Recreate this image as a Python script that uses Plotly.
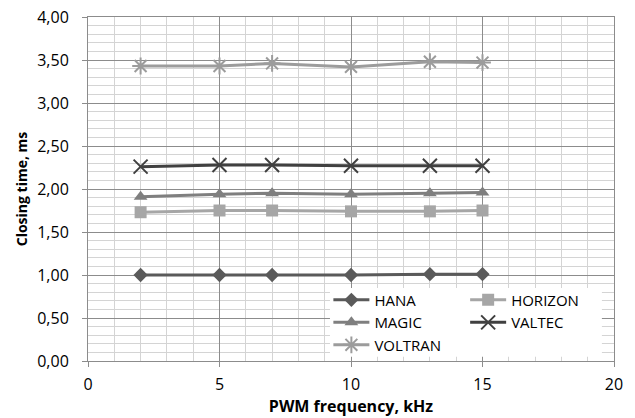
import plotly.graph_objects as go

freq = [2, 5, 7, 10, 13, 15]
hana = [1.00, 1.00, 1.00, 1.00, 1.01, 1.01]
horizon = [1.73, 1.75, 1.75, 1.74, 1.74, 1.75]
magic = [1.91, 1.94, 1.95, 1.94, 1.95, 1.96]
valtec = [2.26, 2.28, 2.28, 2.27, 2.27, 2.27]
voltran = [3.43, 3.43, 3.46, 3.42, 3.48, 3.47]

FONT = "Open Sans"

series = [
    ("HANA", hana, "#5a5a5a", "diamond", 11, "legend"),
    ("HORIZON", horizon, "#a6a6a6", "square", 12, "legend2"),
    ("MAGIC", magic, "#7f7f7f", "triangle-up", 12, "legend"),
    ("VALTEC", valtec, "#404040", "x-thin-open", 14, "legend2"),
    ("VOLTRAN", voltran, "#9c9c9c", "asterisk-open", 14, "legend"),
]

fig = go.Figure()
for name, vals, col, sym, size, lg in series:
    open_sym = sym.endswith("-open")
    fig.add_trace(go.Scatter(
        x=freq, y=vals, name=name, mode="lines+markers",
        line=dict(color=col, width=3),
        marker=dict(symbol=sym, size=size, color=col,
                    line=dict(color=col, width=2 if open_sym else 0)),
        legend=lg,
    ))

major = "#8c8c8c"
minor = "#d4d4d4"

fig.update_layout(
    width=635, height=418,
    margin=dict(l=88, r=21, t=17, b=57, autoexpand=False),
    paper_bgcolor="white", plot_bgcolor="white",
    separators=", ",
    font=dict(family=FONT, size=15, color="#000000"),
    showlegend=True,
    legend=dict(x=0.457, y=0.225, xanchor="left", yanchor="top",
                bgcolor="rgba(0,0,0,0)", font=dict(size=15),
                tracegroupgap=0, itemwidth=36),
    legend2=dict(x=0.717, y=0.225, xanchor="left", yanchor="top",
                 bgcolor="rgba(0,0,0,0)", font=dict(size=15),
                 tracegroupgap=0, itemwidth=36),
    shapes=[dict(type="rect", xref="paper", yref="paper",
                 x0=0.46, x1=0.977, y0=0.012, y1=0.2125,
                 fillcolor="white", line=dict(width=0), layer="above")],
)

fig.update_xaxes(
    range=[0, 20], dtick=5, tick0=0,
    showgrid=True, gridcolor=major, gridwidth=1,
    minor=dict(dtick=1, showgrid=True, gridcolor=minor, gridwidth=1),
    showline=True, linecolor=major, linewidth=1, mirror=True,
    ticks="outside", ticklen=5, tickcolor=major,
    zeroline=False, automargin=False, ticklabeloverflow="allow",
    tickfont=dict(size=16), ticklabelstandoff=4,
    title=dict(text="<b>PWM frequency, kHz</b>", font=dict(size=16), standoff=4),
)
fig.update_yaxes(
    range=[0, 4], dtick=0.5, tick0=0, tickformat=".2f",
    showgrid=True, gridcolor=major, gridwidth=1,
    minor=dict(dtick=0.1, showgrid=True, gridcolor=minor, gridwidth=1),
    showline=True, linecolor=major, linewidth=1, mirror=True,
    ticks="outside", ticklen=5, tickcolor=major,
    zeroline=False, automargin=False, ticklabeloverflow="allow",
    tickfont=dict(size=16), ticklabelstandoff=10,
    title=dict(text="<b>Closing time, ms</b>", font=dict(size=14), standoff=6),
)

fig.write_html(
    "out.html",
    config={"displayModeBar": False},
    post_script="document.body.style.margin='0';document.body.style.overflow='hidden';",
)
